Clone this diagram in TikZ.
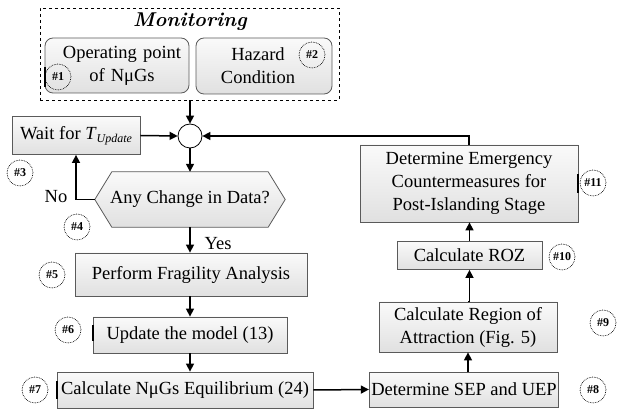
\documentclass[tikz,border=0pt]{standalone}
\usepackage{fontspec}
\setmainfont{Liberation Serif}
\newfontfamily\titlefont{Latin Modern Roman}
\usetikzlibrary{arrows.meta}
\definecolor{boxedge}{RGB}{90,90,90}
\tikzset{
  procbox/.style={draw=boxedge, line width=0.8pt, top color=gray!4, bottom color=gray!24, align=center, inner sep=2pt, font=\fontsize{18.5}{23}\selectfont},
  roundbox/.style={procbox, rounded corners=8pt},
  tagcirc/.style={draw, densely dotted, line width=0.7pt, circle, minimum size=26pt, inner sep=0pt, font=\fontsize{12}{13}\selectfont\bfseries},
  flow/.style={line width=1.5pt, -{Triangle[length=8pt,width=8pt]}},
  tagmark/.style={line width=2pt}
}
\begin{document}
\begin{tikzpicture}[x=1pt, y=-1pt]
\useasboundingbox (0,0) rectangle (619,414);
\node[draw, dashed, line width=0.9pt, minimum width=299pt, minimum height=92pt] (monitor) at (189.5,54) {};
\node[font=\fontsize{20}{23}\titlefont\bfseries\itshape] (montitle) at (190,22) {Monitoring};
\node[roundbox, minimum width=144pt, minimum height=55pt, text width=140pt] (oppoint) at (117,65.5) {\hspace*{10pt}Operating point\\\hspace*{10pt}of NμGs};
\node[roundbox, minimum width=136pt, minimum height=56pt] (hazard) at (264,66) {\hspace*{-12pt}Hazard\\\hspace*{-12pt}Condition};
\node[draw, circle, minimum size=24pt, inner sep=0pt, line width=0.8pt, fill=white] (junc) at (190,136) {};
\node[procbox, minimum width=128pt, minimum height=38pt] (wait) at (76,135.5) {Wait for \textit{T}\raisebox{-0.35ex}{\fontsize{12}{13}\selectfont\itshape Update}};
\node[minimum width=190pt, minimum height=55pt, inner sep=0pt] (change) at (190,199.5) {};
\path[procbox] (change.west) -- ([xshift=17pt]change.north west) -- ([xshift=-17pt]change.north east)
  -- (change.east) -- ([xshift=-17pt]change.south east) -- ([xshift=17pt]change.south west) -- cycle;
\node[font=\fontsize{18.5}{23}\selectfont] at (change) {Any Change in Data?};
\node[procbox, minimum width=232pt, minimum height=43pt] (fragility) at (191,274.5) {Perform Fragility Analysis};
\node[procbox, minimum width=194pt, minimum height=36pt] (model) at (190,335) {Update the model (13)};
\node[procbox, minimum width=256pt, minimum height=36pt] (equil) at (185,390) {Calculate NμGs Equilibrium (24)};
\node[procbox, minimum width=188pt, minimum height=35pt] (seppoint) at (464,389.5) {Determine SEP and UEP};
\node[procbox, minimum width=178pt, minimum height=50pt] (region) at (468,327) {Calculate Region of\\Attraction (Fig. 5)};
\node[procbox, minimum width=145pt, minimum height=28pt] (roz) at (469.5,255.5) {Calculate ROZ};
\node[procbox, minimum width=218pt, minimum height=77pt] (emerg) at (469,183.5) {Determine Emergency\\Countermeasures for\\Post-Islanding Stage};
\node[font=\fontsize{18.5}{23}\selectfont] (nolabel) at (56,197) {No};
\node[font=\fontsize{18.5}{23}\selectfont] (yeslabel) at (218,244) {Yes};
\node[tagcirc] (tag1) at (58,77) {\#1};
\node[tagcirc] (tag2) at (312,55) {\#2};
\node[tagcirc] (tag3) at (20,173) {\#3};
\node[tagcirc] (tag4) at (77,227) {\#4};
\node[tagcirc] (tag5) at (52,275) {\#5};
\node[tagcirc] (tag6) at (68,330) {\#6};
\node[tagcirc] (tag7) at (35,390) {\#7};
\node[tagcirc] (tag8) at (593,390) {\#8};
\node[tagcirc] (tag9) at (603,323) {\#9};
\node[tagcirc] (tag10) at (562,257) {\#10};
\node[tagcirc] (tag11) at (593,183) {\#11};
\draw[tagmark] (oppoint.west |- 0,67) -- (oppoint.west |- 0,87);
\draw[tagmark] (model.west |- 0,325) -- (model.west |- 0,341);
\draw[tagmark] (equil.west |- 0,381) -- (equil.west |- 0,399);
\draw[tagmark] (emerg.east |- 0,174) -- (emerg.east |- 0,193);
\draw[flow] (monitor.south -| junc) -- (junc.north);
\draw[flow] (wait.east) -- (junc.west);
\draw[flow] (emerg.north) |- (junc.east);
\draw[flow] (junc.south) -- (change.north);
\draw[flow] (change.west) -- ++(-18,0) -| (wait.south);
\draw[flow] (change.south) -- (change.south |- fragility.north);
\draw[flow] (fragility.south -| model) -- (model.north);
\draw[flow] (model.south) -- (model.south |- equil.north);
\draw[flow] (equil.east) -- (seppoint.west);
\draw[flow] (seppoint.north -| region) -- (region.south);
\draw[flow] (region.north) -- (region.north -| roz) -- (roz.south);
\draw[flow] (roz.north) -- (roz.north |- emerg.south);
\end{tikzpicture}
\end{document}
